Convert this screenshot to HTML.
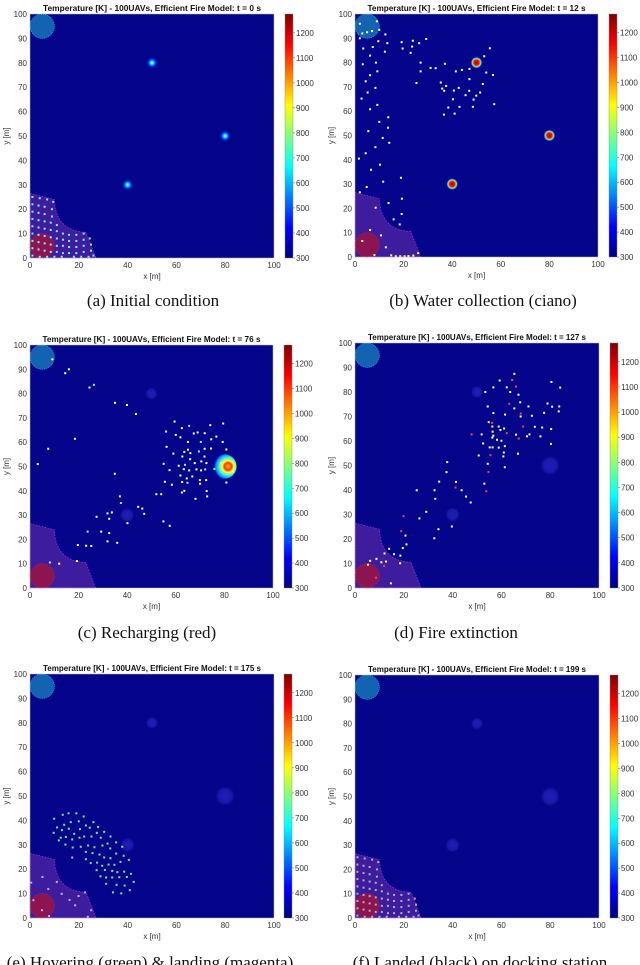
<!DOCTYPE html>
<html><head><meta charset="utf-8">
<style>
html,body{margin:0;padding:0;background:#fff;}
svg{display:block;}
.tk{font-family:"Liberation Sans",sans-serif;font-size:8px;fill:#333;}
.ttl{font-family:"Liberation Sans",sans-serif;font-size:8.5px;font-weight:bold;fill:#111;}
.cap{font-family:"Liberation Serif",serif;font-size:17px;fill:#111;}
</style></head>
<body>
<svg id="fig" width="640" height="965" viewBox="0 0 640 965" xmlns="http://www.w3.org/2000/svg">
<defs>
<linearGradient id="jet" x1="0" y1="1" x2="0" y2="0">
<stop offset="0" stop-color="#000080"/><stop offset="0.125" stop-color="#0000ff"/>
<stop offset="0.375" stop-color="#00ffff"/><stop offset="0.625" stop-color="#ffff00"/>
<stop offset="0.875" stop-color="#ff0000"/><stop offset="1" stop-color="#800000"/>
</linearGradient>
<radialGradient id="glow"><stop offset="0" stop-color="#e0ffff"/><stop offset="0.3" stop-color="#00e0ff"/><stop offset="0.65" stop-color="#0050ff" stop-opacity="0.7"/><stop offset="1" stop-color="#0000ff" stop-opacity="0"/></radialGradient>
<radialGradient id="hot"><stop offset="0" stop-color="#900000"/><stop offset="0.45" stop-color="#ff1000"/><stop offset="0.62" stop-color="#ffa000"/><stop offset="0.75" stop-color="#40ffc0"/><stop offset="0.88" stop-color="#0060ff"/><stop offset="1" stop-color="#0000ff" stop-opacity="0"/></radialGradient>
<radialGradient id="blob" cx="0.65" cy="0.5" r="0.6"><stop offset="0" stop-color="#ffd000"/><stop offset="0.25" stop-color="#ff3000"/><stop offset="0.4" stop-color="#ffff40"/><stop offset="0.6" stop-color="#40ffd0"/><stop offset="0.85" stop-color="#0080ff"/><stop offset="1" stop-color="#0000ff" stop-opacity="0"/></radialGradient>
<radialGradient id="faint"><stop offset="0" stop-color="#2020b8"/><stop offset="0.7" stop-color="#1818a8"/><stop offset="1" stop-color="#10109a" stop-opacity="0"/></radialGradient>
</defs>
</svg>
<script>
// ---- data ----
const xTicks = [0,20,40,60,80,100];
const yTicks = [0,10,20,30,40,50,60,70,80,90,100];
const cbTicks = [300,400,500,600,700,800,900,1000,1100,1200];
const cbMin = 300, cbMax = 1275;
const times = [0,12,76,127,175,199];
const captions = ["(a) Initial condition","(b) Water collection (ciano)","(c) Recharging (red)","(d) Fire extinction","(e) Hovering (green) & landing (magenta)","(f) Landed (black) on docking station"];
const fireX = [50,80,40];
const fireY = [80,50,30];
const dockPts = [[1,25],[4,24.5],[7,24],[9.5,23],[1,22],[3.5,21.5],[6,21],[9,20],[1,19],[3.5,18.5],[6,18],[9,17],[1,16],[3.5,15.5],[6,15],[8.5,14.5],[11,13.5],[1,13],[3.5,12.5],[6,12],[8.5,11.5],[11,11],[13.5,10],[16,9.5],[19,9.5],[22,10],[1,10],[3.5,9.5],[6,9],[8.5,8.5],[11,8],[13.5,7.5],[16,7],[19,7],[22,7.5],[24.5,8],[1,7],[3.5,6.5],[6,6],[8.5,5.5],[11,5],[13.5,5],[16,4.5],[19,4.5],[22,5],[25,5.5],[1,4],[3.5,3.5],[6,3],[8.5,2.5],[11,2.5],[13.5,2],[16,2],[19,2],[22,2.5],[25,3],[1,1],[4,0.5],[7,0.5],[10,0.5],[13,0.5],[18,0.5],[21,0.5],[24,0.5],[26,1]];
const ptsB = [[2,96],[3,92],[5,92.5],[7,93],[9,97],[10,93.5],[12.5,91.6],[2,90],[3.4,85.8],[7.3,86.4],[9.6,88.8],[13.3,88],[12.3,84.5],[6.2,82.9],[8.6,80],[3.2,79.3],[9.2,76.4],[6.2,74.8],[4.4,72.3],[8.4,69.6],[5.2,67.7],[2.7,65.2],[9.2,62.6],[6.2,60.8],[13.7,57.5],[10,55.6],[13.6,53.2],[5.5,51.8],[11.4,49],[14.1,47],[8.4,45.2],[4.4,42.7],[1.6,40.5],[10.3,38],[6.6,35.9],[11.6,31],[18.9,32.6],[4.8,28.8],[2,26.6],[19.3,24],[13.8,22.2],[8.5,20.3],[19.2,17.7],[15.9,15.5],[18.4,13.4],[6.2,11.1],[10.7,8.9],[3,6.6],[12.7,4],[14.9,0.7],[16.8,0.3],[18.6,0.3],[20.4,0.3],[22,0.4],[24,0.6],[26,1.6],[8,0.8],[19.2,88.4],[19.6,85.8],[23.8,89],[23.5,86.6],[22.9,84],[26.4,88],[29.3,89.7],[27,80],[27,76.4],[25.3,71.6],[31.1,77.8],[33.2,77.7],[37,79.5],[41.5,76.4],[44,77],[47.1,77.4],[35.3,71.8],[37.5,70.4],[35.9,69.3],[36.7,68.4],[40.7,68.5],[42.7,69.6],[47.1,73.2],[47,68.4],[45.5,66.6],[48.8,64.8],[49.9,66.4],[51.5,67.7],[52.6,71.2],[54,75.9],[56.8,74.9],[53.2,82.6],[55.5,85.9],[57.3,62.9],[48.5,61.8],[43,61.8],[40.3,64.9],[38.4,61.5],[41,59],[36.6,58.6]];
const ptsC = [[9.2,94.1],[14.5,88.4],[16,90],[24.5,82.5],[26.3,83.6],[35,76.2],[39.9,75.3],[43.6,71.6],[18.5,61.4],[7.5,57.3],[3.2,51],[34.9,47],[37,37.7],[37.4,35],[44.5,33.4],[46.2,32.7],[47,30.5],[33.7,31.1],[31.9,30.7],[32.6,28.5],[27.4,29.3],[40.1,26.7],[23.7,23.2],[29.3,23.2],[32.6,22.6],[31.9,19.2],[35.9,18.6],[19.7,17.7],[23.1,17.4],[25.2,17.3],[19.3,11.1],[8.2,10.5],[12,10],[52,38.6],[54,38.6],[54.9,27.4],[57.5,25.6],[59.5,68.5],[56,64.4],[62.5,65.8],[65.5,66.7],[74.2,67],[79.5,67.7],[60,63],[61.9,62],[65,60.1],[67.4,63.6],[69,64],[71.9,63.7],[70.3,60.1],[74.6,61.2],[76.7,62.3],[79.3,60.1],[56.2,58.1],[59,55.3],[63.5,56],[65,56.9],[66,55.5],[69.5,56.2],[71.9,57.3],[74.5,57.4],[80.8,57],[62.7,54.1],[65.9,53],[71.8,54.1],[55,51.1],[61.2,50.3],[63.8,50.7],[67.8,51.4],[70.5,52.1],[72.6,51.4],[57.4,48.5],[63.3,48.9],[65.5,48.4],[68.5,48.8],[70.4,48.4],[72.1,48.8],[61.9,46.3],[64.5,45.1],[66.8,45.9],[69.9,44.4],[72.5,44.4],[55.5,43.7],[58.4,42.5],[62.6,43.6],[64.8,43.3],[70,42.9],[63.5,40],[62.5,39.3],[72.7,39.9],[68.1,36.7],[72.9,37.7],[80.8,43.4],[83.6,47.8],[75.9,49],[78.6,51.4]];
const ptsD = [[65.3,87.4],[59.3,84.7],[64.4,84.9],[80.5,84.1],[84.1,81.8],[56.7,81.9],[62.2,81.9],[66,82.2],[53.4,80],[63.6,80],[67,78.9],[54.4,74.1],[63.2,75.2],[65.3,73.3],[67.7,75.8],[71.1,74.1],[78.9,75.3],[80.8,74],[83.7,74.1],[83.5,72.1],[56.7,71.4],[61.5,70.8],[67.9,71.2],[67.9,70],[72.5,70.3],[77.5,71.5],[54.8,67.7],[56.2,67.4],[56.3,65.9],[58.9,65.9],[61.1,65.1],[59.6,64.5],[68.9,65.9],[73.7,65.8],[76.7,65.5],[80.4,64.9],[56.4,63.8],[62.2,63.2],[66,62.6],[71.5,62.7],[70.5,61.9],[76,61.9],[67.1,61],[56.7,62.2],[56.3,61.4],[58.2,60.5],[60,60.1],[47.8,62.7],[51.9,62.7],[52.5,59],[55.2,57.4],[56.4,57.4],[58.9,57.3],[61.4,57.9],[80.3,58.8],[61,55.3],[60.8,53.7],[55.5,54.2],[50.7,54.1],[66.8,54.8],[61.4,49.3],[54.4,50.7],[54.7,47.4],[37.8,51.4],[37.5,47.3],[34.5,43.4],[41.4,43.3],[41.2,41],[43.7,39.9],[45.5,37.3],[47.4,34.9],[53,42.6],[53.8,39.5],[25.3,39.9],[32.6,39.9],[32.9,36.4],[29.2,31.1],[19.9,29.3],[26.4,28.4],[34.2,24],[39.7,25.1],[32.5,20.3],[18.9,23.2],[20.7,21.4],[21.1,17.8],[19.6,16.3],[14,16],[16,13.8],[18.6,13.2],[12.1,14.1],[10.8,10.5],[12.7,10.8],[11.9,9],[18.5,10.1],[8.8,11.9],[6.2,11.1],[5.3,9.5],[8.6,4.2],[14.7,1.9]];
const ptsE = [[9.9,40.7],[13.4,42.3],[15.8,42.9],[19,42.9],[22,41.6],[26,39.3],[14,38.2],[16.7,39.3],[20,39.6],[22.9,37.9],[24.5,37],[27.9,37.3],[30.4,35.3],[11.1,37.1],[13.1,36],[15.9,36.6],[18.1,34.5],[20.5,36.4],[9.7,34.9],[12.6,32.9],[14.7,33.2],[17.3,32.2],[20.3,32.9],[22.2,33.4],[25.2,33.4],[27.4,34.9],[29,32.9],[33,33.4],[35.3,31],[11.8,31.8],[14.5,30.1],[17.5,28.9],[20.8,29.2],[23.8,29.7],[26.4,29],[29.7,29.7],[31.8,30.5],[32.9,28.5],[37.8,29.2],[22.9,27.1],[25.6,26.6],[28.5,26],[30.4,24.8],[33,24.5],[35.3,26.4],[38.4,25.5],[22.9,24.1],[24.9,22.5],[27.5,22.7],[29.6,21.4],[32.2,21.9],[34.6,21.8],[37.1,23],[40.5,23.8],[27.3,19.6],[30.7,19.7],[33.7,19.3],[35.8,18.8],[38.6,19],[41.4,18.1],[28.9,17.1],[31.2,16.6],[33.7,16.6],[36.6,16.7],[39.7,16.8],[42.5,14.8],[31.2,14],[35.5,13.6],[38.8,13.3],[40.9,11.4],[34,10.5],[37.4,10.1]];
const ptsELand = [[5.1,16.8],[0.5,14.5],[7.5,11.9],[11,14.8],[13,9.9],[16.2,7.4],[19.9,9],[22.5,10.5],[18.5,5.2],[25.1,3.2],[4.9,3.2],[1.4,7.3],[23.7,0.5],[7.8,0.8],[17.3,24.8]];

// ---- layout ----
const panels = [
 {x0:30,x1:274,y0:14,y1:258,cb:285,cx:153,cy:306},
 {x0:355,x1:598,y0:14,y1:257,cb:609,cx:483,cy:306},
 {x0:30,x1:273,y0:345,y1:588,cb:284,cx:147,cy:638},
 {x0:355,x1:599,y0:343,y1:588,cb:610,cx:456,cy:638},
 {x0:30,x1:274,y0:674,y1:918,cb:284,cx:150,cy:968},
 {x0:355,x1:599,y0:675,y1:918,cb:610,cx:480,cy:968}
];
const NS="http://www.w3.org/2000/svg";
const svg=document.getElementById('fig');
function mk(tag,attrs,parent){const e=document.createElementNS(NS,tag);for(const k in attrs)e.setAttribute(k,attrs[k]);(parent||svg).appendChild(e);return e;}

panels.forEach((p,i)=>{
  const g=mk('g',{});
  
  
  const w=p.x1-p.x0,h=p.y1-p.y0;
  const sx=v=>p.x0+v/100*w, sy=v=>p.y1-v/100*h, sr=v=>v/100*w;
  const bg=mk('rect',{x:p.x0,y:p.y0,width:w,height:h,fill:'#05058c'},g);
  
  
  const d=`M${sx(0)},${sy(26.5)} L${sx(10)},${sy(24)} L${sx(10.3)},${sy(21)} Q${sx(12)},${sy(11)} ${sx(23)},${sy(10.5)} L${sx(27)},${sy(0)} L${sx(0)},${sy(0)} Z`;
  const dock=mk('path',{d:d,fill:'#3d1d9e',stroke:'#b030d0','stroke-width':0.7,'stroke-dasharray':'1.5,1.5'},g);
  
  
  const rc=mk('circle',{cx:sx(5),cy:sy(5),r:sr(5),fill:'#8c1450',stroke:'#c02050','stroke-width':0.6,'stroke-dasharray':'1,1'},g);
  
  
  const wc=mk('circle',{cx:sx(5),cy:sy(95),r:sr(5),fill:'#1462b2',stroke:'#20c0e0','stroke-width':0.6,'stroke-dasharray':'1,1'},g);
  
  
  fireX.forEach((fx,k)=>{
    let grad='faint',r=[2.5,4,3][k];
    if(i===0){grad='glow';r=2.3;}
    else if(i===1){grad='hot';r=2.4;}
    else if(i===2 && k===1){grad='blob';r=5;}
    const fc=mk('circle',{cx:sx(fx),cy:sy(fireY[k]),r:sr(r),fill:`url(#${grad})`},g);
    
    
  });
  const sets=[[dockPts,'#7ff0f0'],[ptsB,'#ffffb0'],[ptsC,'#ffffa0'],[ptsD,'#ffff90'],[ptsE,'#70f070'],[dockPts,'#b0b0b0']];
  const [pts,col]=sets[i];
  pts.forEach((pt,j)=>{
    let c=col;
    if(i===3 && j%5===2)c='#ff4040';
    if(i===3 && j%7===3)c='#ffffff';
    if(i===2 && j%9===4)c='#80ffff';
    const u=mk('rect',{x:sx(pt[0])-1,y:sy(pt[1])-1,width:2,height:2,fill:c},g);
    
    
  });
  if(i===4){ptsELand.forEach(pt=>{
    const u=mk('rect',{x:sx(pt[0])-1,y:sy(pt[1])-1,width:2,height:2,fill:'#e0a0f0'},g);
    
    
  });}
  mk('rect',{x:p.x0,y:p.y0,width:w,height:h,fill:'none',stroke:'#bbb','stroke-width':0.5},g);
  xTicks.forEach(v=>{
    const t=mk('text',{x:sx(v),y:p.y1+10,'text-anchor':'middle',class:'tk'},g);t.textContent=v;
    
    
  });
  yTicks.forEach(v=>{
    const t=mk('text',{x:p.x0-3,y:sy(v)+3,'text-anchor':'end',class:'tk'},g);t.textContent=v;
    
    
  });
  const xl=mk('text',{x:(p.x0+p.x1)/2,y:p.y1+21,'text-anchor':'middle',class:'tk'},g);xl.textContent='x [m]';
  
  
  const yl=mk('text',{x:p.x0-21,y:(p.y0+p.y1)/2,'text-anchor':'middle',class:'tk',transform:`rotate(-90 ${p.x0-21} ${(p.y0+p.y1)/2})`},g);yl.textContent='y [m]';
  
  
  const tt=mk('text',{x:(p.x0+p.x1)/2,y:p.y0-3,'text-anchor':'middle',class:'ttl',textLength:218,lengthAdjust:'spacingAndGlyphs'},g);
  tt.textContent='Temperature [K] - 100UAVs, Efficient Fire Model: t = '+times[i]+' s';
  
  
  const cs=v=>p.y1-(v-cbMin)/(cbMax-cbMin)*h;
  const cbar=mk('rect',{x:p.cb,y:p.y0,width:8,height:h,fill:'url(#jet)',stroke:'#888','stroke-width':0.4},g);
  
  
  cbTicks.forEach(v=>{
    mk('line',{x1:p.cb+8,x2:p.cb+10,y1:cs(v),y2:cs(v),stroke:'#555','stroke-width':0.5},g);
    const t=mk('text',{x:p.cb+11,y:cs(v)+3,class:'tk'},g);t.textContent=v;
    
    
  });
  const cap=mk('text',{x:p.cx,y:p.cy,'text-anchor':'middle',class:'cap'},g);
  cap.textContent=captions[i];
  
  
});
</script>
</body></html>
